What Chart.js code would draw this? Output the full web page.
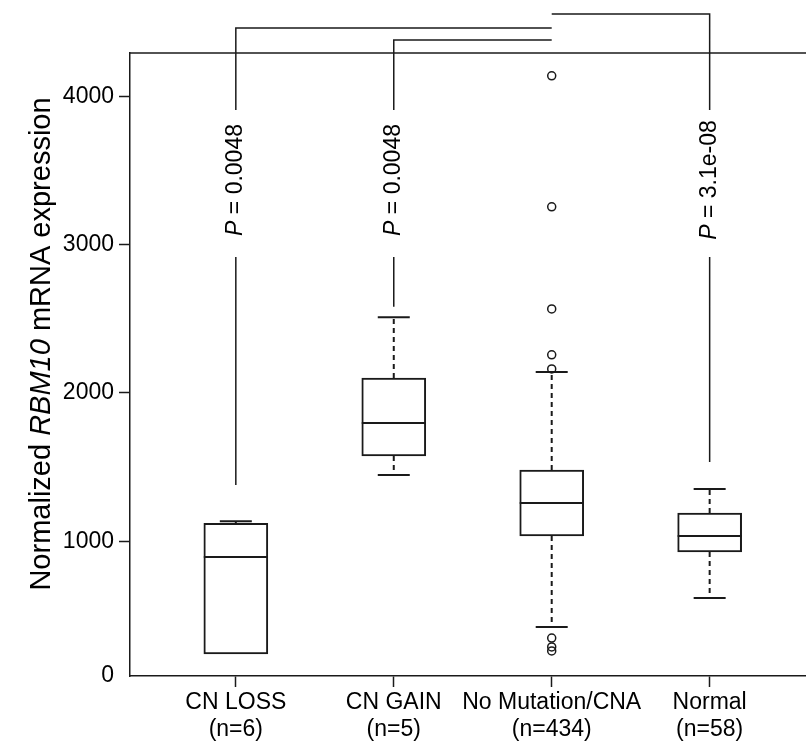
<!DOCTYPE html>
<html>
<head>
<meta charset="utf-8">
<script src="https://cdn.jsdelivr.net/npm/chart.js@4.4.1/dist/chart.umd.min.js"></script>
<style>
html, body { margin: 0; padding: 0; background: #fff; }
</style>
</head>
<body>
<canvas id="chart" width="806" height="743"></canvas>
<script>
// box plot values
const groups = ['CN LOSS', 'CN GAIN', 'No Mutation/CNA', 'Normal'];
const groupSizes = ['(n=6)', '(n=5)', '(n=434)', '(n=58)'];
const whiskerLow = [240, 1446, 421, 617];
const q1 = [240, 1574, 1035, 927];
const median = [893, 1797, 1258, 1035];
const q3 = [1121, 2100, 1480, 1190];
const whiskerHigh = [1134, 2510, 2141, 1352];
const outliers = [[], [], [4137, 3254, 2566, 2256, 2161, 347, 287, 260], []];

// comparisons against "No Mutation/CNA" (group 3)
const pValues = ['0.0048', '0.0048', null, '3.1e-08'];
const pLineBottom = [1379, 2580, null, 1534];
const bracketLevel = [4460, 4379, null, 4554];
const pGapLow = 2916;
const pGapHigh = 3907;
const pTextAt = 3435;

const yTicks = [0, 1000, 2000, 3000, 4000];
const Y_MIN = 91;
const Y_MAX = 4291;
const X_MIN = 0.33;
const X_MAX = 4.61;

const FONT = '"Liberation Sans", Arial, sans-serif';
const INK = '#1a1a1a';

// build datasets from the arrays
const boxData = groups.map((g, i) => ({ x: i + 1, y: [q1[i], q3[i]] }));
const medianData = groups.map((g, i) => ({ x: i + 1, y: median[i] }));
const capData = [];
const whiskerData = [];
groups.forEach((g, i) => {
    capData.push({ x: i + 1, y: whiskerHigh[i] });
    if (whiskerLow[i] < q1[i]) capData.push({ x: i + 1, y: whiskerLow[i] });
    whiskerData.push({ x: i + 1, y: q3[i] }, { x: i + 1, y: whiskerHigh[i] }, { x: i + 1, y: null });
    if (whiskerLow[i] < q1[i]) {
        whiskerData.push({ x: i + 1, y: q1[i] }, { x: i + 1, y: whiskerLow[i] }, { x: i + 1, y: null });
    }
});
const outlierData = [];
outliers.forEach((list, i) => list.forEach(v => outlierData.push({ x: i + 1, y: v })));

const bracketData = [];
pValues.forEach((p, i) => {
    if (!p) return;
    bracketData.push(
        { x: i + 1, y: pLineBottom[i] }, { x: i + 1, y: pGapLow }, { x: i + 1, y: null },
        { x: i + 1, y: pGapHigh }, { x: i + 1, y: bracketLevel[i] }, { x: 3, y: bracketLevel[i] }, { x: 3, y: null }
    );
});

function drawMixed(ctx, parts, size) {
    let total = 0;
    const widths = parts.map(([style, text]) => {
        ctx.font = `${style} ${size}px ${FONT}`;
        const w = ctx.measureText(text).width;
        total += w;
        return w;
    });
    let x = -total / 2;
    ctx.textAlign = 'left';
    ctx.textBaseline = 'middle';
    parts.forEach(([style, text], k) => {
        ctx.font = `${style} ${size}px ${FONT}`;
        ctx.fillText(text, x, 0);
        x += widths[k];
    });
}

const extras = {
    id: 'extras',
    afterDatasetsDraw(chart) {
        const { ctx, chartArea, scales: { x, y } } = chart;
        ctx.save();
        ctx.fillStyle = '#000';

        // top frame line
        ctx.strokeStyle = INK;
        ctx.lineWidth = 1.5;
        ctx.beginPath();
        ctx.moveTo(chartArea.left, chartArea.top);
        ctx.lineTo(chartArea.right, chartArea.top);
        ctx.stroke();

        // p-value labels
        pValues.forEach((p, i) => {
            if (!p) return;
            ctx.save();
            ctx.translate(x.getPixelForValue(i + 1), y.getPixelForValue(pTextAt));
            ctx.rotate(-Math.PI / 2);
            drawMixed(ctx, [['italic', 'P'], ['normal', ' = ' + p]], 23);
            ctx.restore();
        });

        // y axis title with italic gene name
        ctx.save();
        ctx.translate(42, 344);
        ctx.rotate(-Math.PI / 2);
        drawMixed(ctx, [['normal', 'Normalized '], ['italic', 'RBM10'], ['normal', ' mRNA expression']], 29);
        ctx.restore();

        ctx.restore();
    }
};

// datasets listed first are drawn on top
new Chart(document.getElementById('chart'), {
    type: 'scatter',
    data: {
        datasets: [
            {
                data: outlierData,
                pointStyle: 'circle',
                pointRadius: 4,
                backgroundColor: 'rgba(0,0,0,0)',
                borderColor: INK,
                borderWidth: 1.5
            },
            {
                data: medianData,
                pointStyle: 'line',
                pointRadius: 32,
                borderColor: INK,
                borderWidth: 2
            },
            {
                data: capData,
                pointStyle: 'line',
                pointRadius: 16,
                borderColor: INK,
                borderWidth: 2
            },
            {
                type: 'line',
                data: bracketData,
                borderColor: INK,
                borderWidth: 1.5,
                pointRadius: 0,
                spanGaps: false,
                clip: false
            },
            {
                type: 'line',
                data: whiskerData,
                borderColor: INK,
                borderWidth: 2,
                borderDash: [5, 4],
                pointRadius: 0,
                spanGaps: false
            },
            {
                type: 'bar',
                data: boxData,
                backgroundColor: '#fff',
                borderColor: INK,
                borderWidth: 2,
                borderSkipped: false,
                barThickness: 64
            }
        ]
    },
    options: {
        responsive: false,
        animation: false,
        layout: { autoPadding: false, padding: { top: 53, left: 0, right: 0, bottom: 0 } },
        plugins: { legend: { display: false }, tooltip: { enabled: false } },
        scales: {
            x: {
                type: 'linear',
                min: X_MIN,
                max: X_MAX,
                offset: false,
                afterBuildTicks: scale => { scale.ticks = groups.map((g, i) => ({ value: i + 1 })); },
                afterFit: scale => { scale.height = 67; },
                grid: { offset: false, drawOnChartArea: false, drawTicks: true, tickLength: 11, tickColor: INK, tickWidth: 1.5 },
                border: { display: true, color: INK, width: 1.5 },
                ticks: {
                    color: '#000',
                    padding: 2,
                    autoSkip: false,
                    maxRotation: 0,
                    minRotation: 0,
                    font: { family: FONT, size: 23, lineHeight: 1.17 },
                    callback: v => [groups[v - 1], groupSizes[v - 1]]
                }
            },
            y: {
                type: 'linear',
                min: Y_MIN,
                max: Y_MAX,
                afterBuildTicks: scale => { scale.ticks = yTicks.map(v => ({ value: Math.max(v, Y_MIN) })); },
                afterFit: scale => { scale.width = 130; },
                grid: {
                    drawOnChartArea: false,
                    drawTicks: true,
                    tickLength: 11,
                    tickWidth: 1.5,
                    tickColor: ctx => (ctx.tick && ctx.tick.value <= Y_MIN ? 'rgba(0,0,0,0)' : INK)
                },
                border: { display: true, color: INK, width: 1.5 },
                ticks: {
                    color: '#000',
                    padding: 5,
                    font: { family: FONT, size: 23 },
                    callback: v => (v <= Y_MIN ? '0' : String(v))
                }
            }
        }
    },
    plugins: [extras]
});
</script>
</body>
</html>
